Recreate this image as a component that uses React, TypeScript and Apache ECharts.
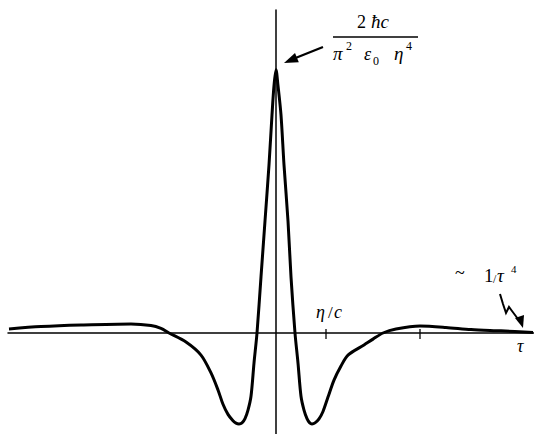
import React, { useEffect, useRef } from "react";
import * as echarts from "echarts";

// Correlation function: time lag tau (units of eta/c) and response (units of the peak value)
const tau = [
  -5.34, -4.7, -3.9, -2.9, -2.5, -2.3, -2.14, -1.8, -1.5, -1.3, -1.16, -1.06, -0.96, -0.86,
  -0.8, -0.74, -0.68, -0.62, -0.56, -0.5, -0.44, -0.38, -0.3, -0.22, -0.14, -0.08, -0.04, 0,
  0.04, 0.1, 0.16, 0.24, 0.3, 0.38, 0.44, 0.5, 0.56, 0.62, 0.67, 0.72, 0.78, 0.86, 0.94, 1.04,
  1.16, 1.3, 1.44, 1.76, 1.94, 2.14, 2.4, 2.88, 3.4, 3.9, 4.5, 5.14,
];
const response = [
  0.015, 0.024, 0.03, 0.034, 0.028, 0.017, 0, -0.034, -0.083, -0.15, -0.214, -0.268, -0.306,
  -0.33, -0.339, -0.342, -0.338, -0.322, -0.29, -0.238, -0.113, 0, 0.211, 0.421, 0.632, 0.82,
  0.93, 0.99, 0.93, 0.82, 0.632, 0.421, 0.211, 0, -0.113, -0.238, -0.29, -0.322, -0.337,
  -0.342, -0.338, -0.323, -0.295, -0.241, -0.177, -0.124, -0.083, -0.045, -0.023, 0, 0.015,
  0.026, 0.021, 0.013, 0.008, 0.002,
];
// Marked positions on the tau axis
const tickTau = [1, 2.88];

const SERIF = '"Liberation Serif", "DejaVu Serif", serif';

// text placed by its alphabetic baseline
function txt(text: string, x: number, baseline: number, size: number, italic = true) {
  return {
    type: "text",
    silent: true,
    style: {
      text,
      x,
      y: baseline - 0.35 * size,
      fill: "#000",
      font: `${italic ? "italic " : ""}${size}px ${SERIF}`,
      textAlign: "left",
      textVerticalAlign: "middle",
    },
  };
}

export default function App() {
  const ref = useRef<HTMLDivElement>(null);

  useEffect(() => {
    if (!ref.current) return;
    const chart = echarts.init(ref.current, null, { renderer: "svg" });
    const axisCommon = {
      type: "value" as const,
      axisLine: { show: true, onZero: true, lineStyle: { color: "#000", width: 1.5 } },
      axisTick: { show: false },
      axisLabel: { show: false },
      splitLine: { show: false },
    };
    chart.setOption({
      animation: false,
      backgroundColor: "#fff",
      grid: { left: 8, top: 10, width: 526, height: 424, containLabel: false },
      xAxis: { ...axisCommon, min: -5.36, max: 5.16 },
      yAxis: { ...axisCommon, min: -0.3797, max: 1.2143 },
      series: [
        {
          type: "line",
          data: tau.map((t, i) => [t, response[i]]),
          symbol: "none",
          smooth: 0.3,
          lineStyle: { color: "#000", width: 3 },
          z: 3,
        },
        {
          type: "scatter",
          data: tickTau.map((t) => [t, 0]),
          symbol: "rect",
          symbolSize: [1.6, 10],
          symbolOffset: [0, 1],
          itemStyle: { color: "#000" },
          z: 4,
        },
      ],
      graphic: [
        // axis labels
        txt("η", 316, 318, 18),
        txt("/", 328, 318, 17, false),
        txt("c", 334, 318, 18),
        txt("τ", 517, 352, 18),
        // peak value
        txt("2", 357, 28, 18, false),
        txt("ħc", 371, 28, 19),
        {
          type: "line",
          silent: true,
          shape: { x1: 333, y1: 37, x2: 418, y2: 37 },
          style: { stroke: "#000", lineWidth: 1.3 },
        },
        txt("π", 333, 60, 19),
        txt("2", 346, 50, 12, false),
        txt("ε", 364, 60, 18),
        txt("0", 373, 65, 12, false),
        txt("η", 394, 60, 19),
        txt("4", 406, 50, 12, false),
        {
          type: "line",
          silent: true,
          shape: { x1: 323, y1: 47, x2: 293, y2: 59 },
          style: { stroke: "#000", lineWidth: 2.2 },
        },
        {
          type: "polygon",
          silent: true,
          shape: { points: [[284, 63], [298.8, 62.3], [295, 53.1]] },
          style: { fill: "#000" },
        },
        // asymptotic tail note
        txt("~", 455, 279, 18, false),
        txt("1", 484, 282, 19, false),
        txt("/", 493, 283, 12, false),
        txt("τ", 497, 282, 19),
        txt("4", 511, 273, 11, false),
        {
          type: "polyline",
          silent: true,
          shape: {
            points: [[500, 294], [503, 304], [506, 313], [509, 307], [512, 311], [518, 319]],
          },
          style: { stroke: "#000", lineWidth: 2, fill: null },
        },
        {
          type: "polygon",
          silent: true,
          shape: { points: [[523, 328], [515, 318], [524, 315]] },
          style: { fill: "#000" },
        },
      ],
    });
    return () => chart.dispose();
  }, []);

  return <div ref={ref} style={{ width: 534, height: 434, position: "absolute", left: 0, top: 0 }} />;
}
